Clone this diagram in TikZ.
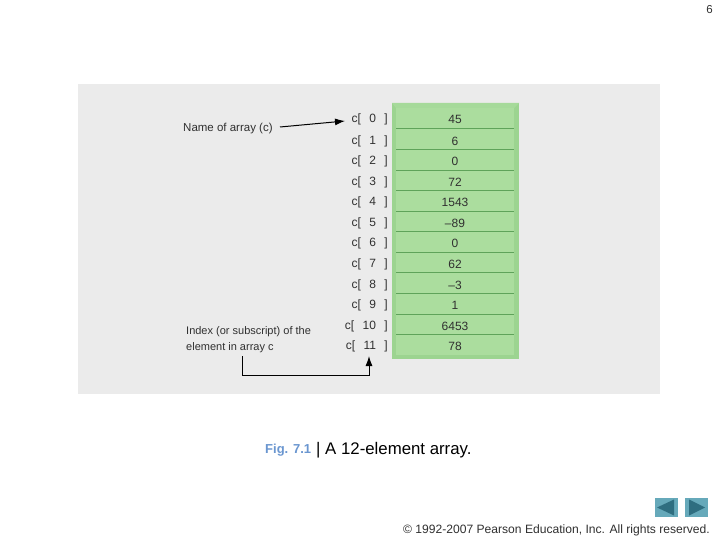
\documentclass[tikz,border=0pt]{standalone}
\usepackage{fontspec}
\setmainfont{Liberation Sans}
\definecolor{panel}{HTML}{EBEBEB}
\definecolor{cellfill}{HTML}{ABDD9E}
\definecolor{cellrim}{HTML}{9CD490}
\definecolor{cellrimlt}{HTML}{A6DA9A}
\definecolor{cellline}{HTML}{5FA35A}
\definecolor{lbl}{HTML}{303030}
\definecolor{figblue}{HTML}{6A96D0}
\definecolor{btn}{HTML}{66A9BA}
\definecolor{btndark}{HTML}{2F6E80}
\usetikzlibrary{arrows.meta}
\tikzset{
  x=1pt,y=-1pt,
  idxlabel/.style={font=\fontsize{12}{14}\selectfont,text=lbl,inner sep=0pt},
  vallabel/.style={font=\fontsize{12}{14}\selectfont,text=lbl,inner sep=0pt},
  note/.style={font=\fontsize{11}{16}\selectfont,text=lbl,inner sep=0pt,align=left},
  callout/.style={draw=black,line width=1pt,-{Latex[length=10pt,width=7pt]}},
  rowline/.style={draw=cellline,line width=0.7pt},
}
\begin{document}
\begin{tikzpicture}
\useasboundingbox (0,0) rectangle (720,540);
\fill[white] (0,0) rectangle (720,540);
\fill[panel] (78,84) rectangle (660,394);
% array block
\fill[cellrim] (392,103) rectangle (519,359);
\fill[cellrimlt] (392,103) -- (519,103) -- (514,108) -- (396,108) -- cycle;
\fill[cellfill] (396,108) rectangle (514,355);
\foreach \yy in {128,149,170,190,211,231,252,272,293,314,334}
  \draw[rowline] (396,\yy) -- (514,\yy);
% index labels and values
\foreach \i/\yy/\v in {0/119/45,1/141/6,2/161/0,3/182/72,4/202/1543,5/223/{–89},6/243/0,7/264/62,8/285/{–3},9/305/1,10/326/6453,11/346/78}{
  \node[idxlabel,anchor=east] (c\i) at (388,\yy) {c[\hspace{0.7em}\i\hspace{0.7em}]};
  \node[vallabel,anchor=center] (v\i) at (455,\yy) {\v};
}
% notes
\node[note,anchor=west] (nameof) at (183,129) {\fontsize{11.5}{16}\selectfont Name of array (c)};
\node[note,anchor=north west] (index) at (186,326) {Index (or subscript) of the\\element in array c};
% connectors
\coordinate (nameend) at (280,127);
\coordinate (arrowtip) at (345,121);
\draw[callout] (nameend) -- (arrowtip);
\coordinate (idxstart) at (242,356);
\coordinate (idxtip) at (369,356);
\draw[callout] (idxstart) -- (242,375) -- (369,375) -- (idxtip);
% caption
\node[inner sep=0pt,anchor=base west,text=figblue,font=\fontsize{13}{15}\selectfont\bfseries] (figlbl) at (265,453) {Fig. 7.1};
\node[inner sep=0pt,anchor=base west,text=black,font=\fontsize{16.8}{19}\selectfont] (figcap) at (316,454) {| A 12-element array.};
% footer
\node[inner sep=0pt,anchor=base east,font=\fontsize{12.1}{14}\selectfont,text=lbl] (footer) at (710,533) {© 1992-2007 Pearson Education, Inc.  All rights reserved.};
\node[inner sep=0pt,anchor=north east,font=\fontsize{11.5}{13}\selectfont,text=lbl] (page) at (713,5) {6};
% buttons
\fill[btn] (655,498) rectangle (678,517);
\fill[btndark] (657,507.5) -- (674,499.5) -- (674,515.5) -- cycle;
\fill[btn] (685,498) rectangle (708,517);
\fill[btndark] (705,507.5) -- (689,499.5) -- (689,515.5) -- cycle;
\end{tikzpicture}
\end{document}
